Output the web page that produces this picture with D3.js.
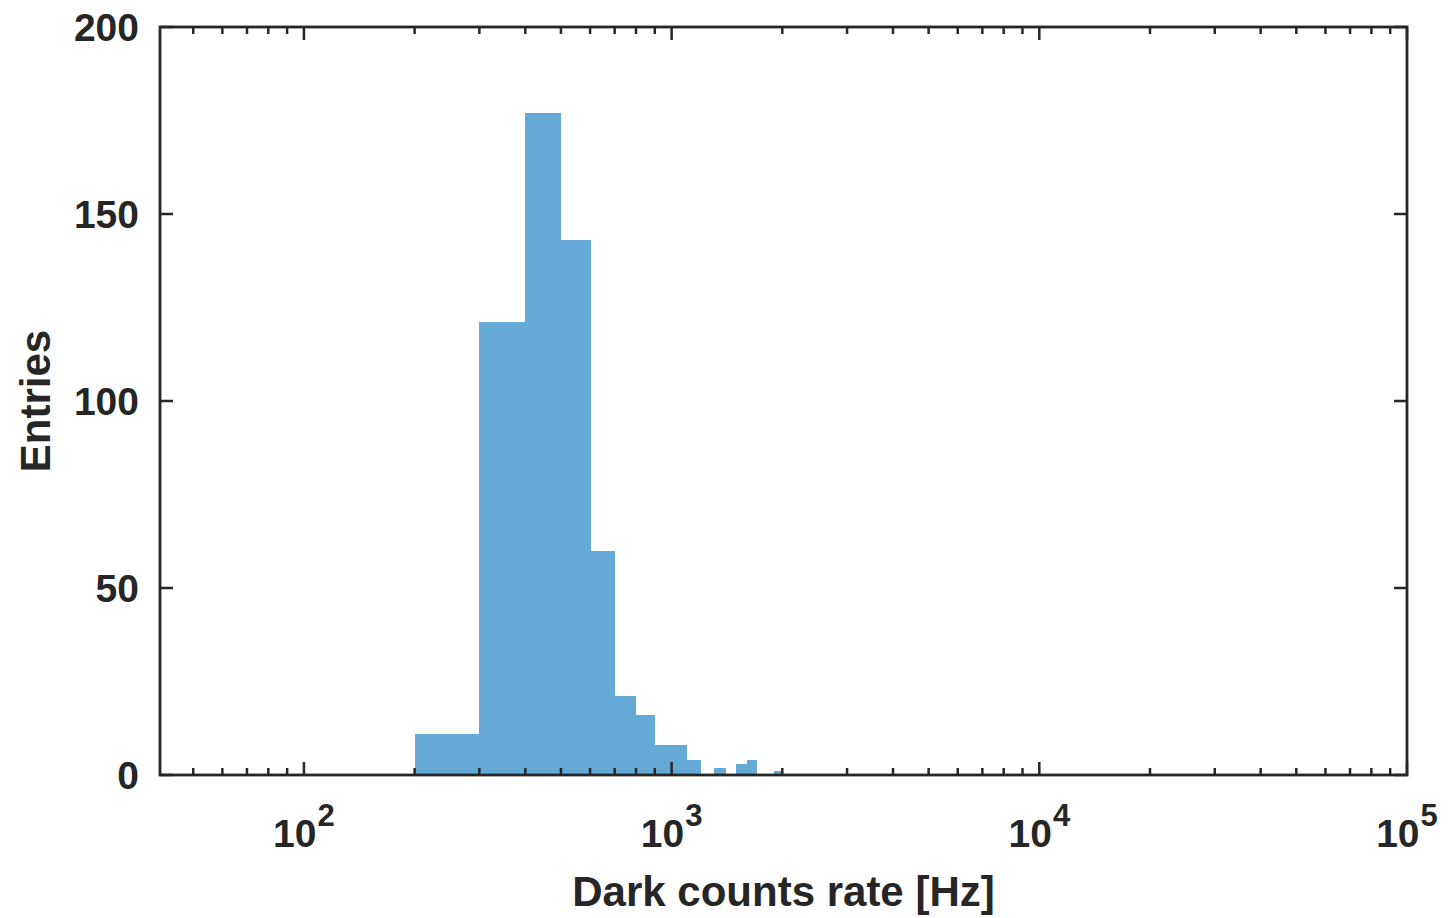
<!DOCTYPE html>
<html>
<head>
<meta charset="utf-8">
<script src="https://cdn.jsdelivr.net/npm/d3@7"></script>
<style>
  html, body { margin: 0; padding: 0; background: #fff; }
  svg { display: block; }
  text { font-family: "Liberation Sans", Arial, Helvetica, sans-serif; font-weight: bold; fill: #262626; }
</style>
</head>
<body>
<svg id="chart" width="1449" height="918"></svg>
<script>
// Histogram bins (Hz): lower and upper edge of each bin, and entries per bin
const binLow  = [200, 300, 400, 500, 600, 700, 800, 900, 1000, 1100, 1200, 1300, 1400, 1500, 1600, 1700, 1800, 1900];
const binHigh = [300, 400, 500, 600, 700, 800, 900, 1000, 1100, 1200, 1300, 1400, 1500, 1600, 1700, 1800, 1900, 2000];
const counts  = [11, 121, 177, 143, 60, 21, 16, 8, 8, 4, 0, 2, 0, 3, 4, 0, 0, 1];

// Axis ticks
const xMajorTicks = [1e2, 1e3, 1e4, 1e5];
const xMajorExponents = ["2", "3", "4", "5"];
const yTicks = [0, 50, 100, 150, 200];

const xDomain = [40.6, 1e5];
const yDomain = [0, 200];

const svg = d3.select("#chart");
const plotLeft = 160, plotRight = 1407, plotTop = 27, plotBottom = 775;
const ink = "#262626";
const barColor = "#65a9d7";

const x = d3.scaleLog().domain(xDomain).range([plotLeft, plotRight]);
const y = d3.scaleLinear().domain(yDomain).range([plotBottom, plotTop]);

// Bars
const bins = binLow.map((lo, i) => ({ lo, hi: binHigh[i], n: counts[i] }));
svg.append("g")
  .attr("shape-rendering", "crispEdges")
  .selectAll("rect")
  .data(bins.filter(d => d.n > 0))
  .join("rect")
  .attr("x", d => x(d.lo))
  .attr("y", d => y(d.n))
  .attr("width", d => x(d.hi) - x(d.lo) + 0.5)
  .attr("height", d => y(0) - y(d.n))
  .attr("fill", barColor);

// Minor log ticks (2..9 times each power of ten) inside the domain
const minorTicks = [];
[10, 100, 1000, 10000].forEach(p => {
  for (let m = 2; m <= 9; m++) {
    const v = m * p;
    if (v >= xDomain[0] && v <= xDomain[1]) minorTicks.push(v);
  }
});

const ticks = svg.append("g").attr("stroke", ink).attr("stroke-width", 2.5);
const majorLen = 13, minorLen = 7;

// Bottom and top x ticks, pointing inward
xMajorTicks.forEach(v => {
  ticks.append("line").attr("x1", x(v)).attr("x2", x(v)).attr("y1", plotBottom).attr("y2", plotBottom - majorLen);
  ticks.append("line").attr("x1", x(v)).attr("x2", x(v)).attr("y1", plotTop).attr("y2", plotTop + majorLen);
});
minorTicks.forEach(v => {
  ticks.append("line").attr("x1", x(v)).attr("x2", x(v)).attr("y1", plotBottom).attr("y2", plotBottom - minorLen);
  ticks.append("line").attr("x1", x(v)).attr("x2", x(v)).attr("y1", plotTop).attr("y2", plotTop + minorLen);
});

// Left and right y ticks, pointing inward
yTicks.forEach(v => {
  ticks.append("line").attr("x1", plotLeft).attr("x2", plotLeft + majorLen).attr("y1", y(v)).attr("y2", y(v));
  ticks.append("line").attr("x1", plotRight).attr("x2", plotRight - majorLen).attr("y1", y(v)).attr("y2", y(v));
});

// Axes box
svg.append("rect")
  .attr("x", plotLeft).attr("y", plotTop)
  .attr("width", plotRight - plotLeft).attr("height", plotBottom - plotTop)
  .attr("fill", "none").attr("stroke", ink).attr("stroke-width", 2.8);

// Y tick labels
svg.append("g").selectAll("text")
  .data(yTicks)
  .join("text")
  .attr("x", plotLeft - 21)
  .attr("y", d => y(d))
  .attr("dy", "0.36em")
  .attr("text-anchor", "end")
  .attr("font-size", 39)
  .text(d => d);

// X tick labels as powers of ten
const xl = svg.append("g");
xMajorTicks.forEach((v, i) => {
  const t = xl.append("text")
    .attr("x", x(v))
    .attr("y", 847)
    .attr("text-anchor", "middle")
    .attr("font-size", 39);
  t.append("tspan").text("10");
  t.append("tspan").attr("font-size", 31).attr("dy", -21).attr("dx", 1).text(xMajorExponents[i]);
});

// Axis titles
svg.append("text")
  .attr("x", (plotLeft + plotRight) / 2)
  .attr("y", 906)
  .attr("text-anchor", "middle")
  .attr("font-size", 42)
  .text("Dark counts rate [Hz]");

svg.append("text")
  .attr("transform", `translate(50, ${(plotTop + plotBottom) / 2}) rotate(-90)`)
  .attr("text-anchor", "middle")
  .attr("font-size", 42)
  .text("Entries");
</script>
</body>
</html>
